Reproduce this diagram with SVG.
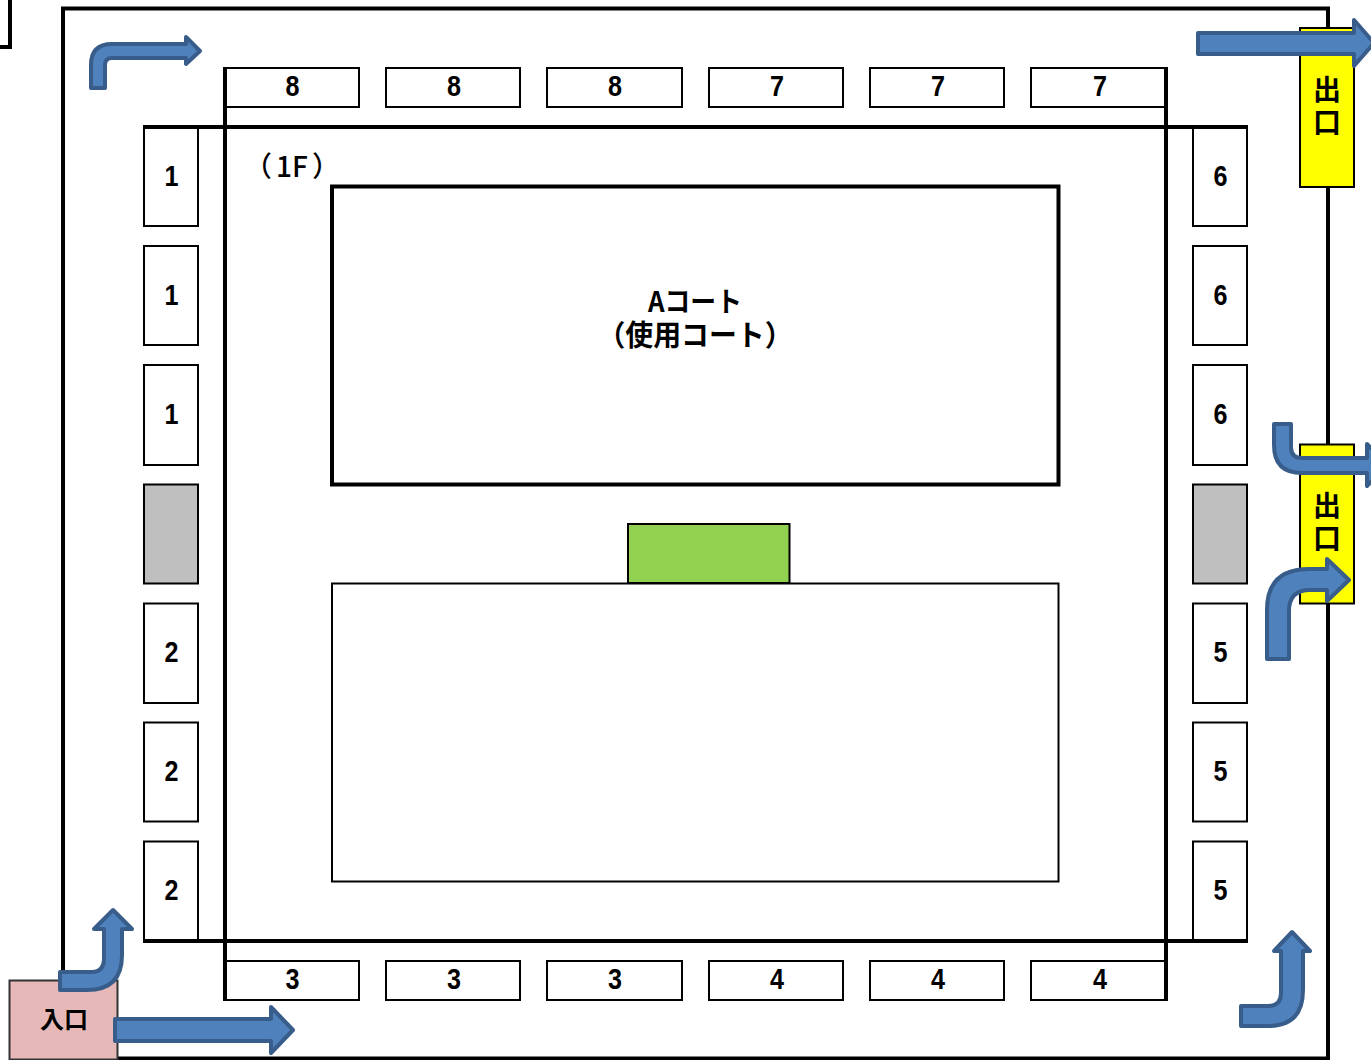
<svg xmlns="http://www.w3.org/2000/svg" width="1371" height="1060" viewBox="0 0 1371 1060">
<style>
.wall{fill:none;stroke:#000;stroke-width:4}
.box{fill:#fff;stroke:#000;stroke-width:2}
.grey{fill:#BFBFBF;stroke:#000;stroke-width:2}
.arrow{fill:#4F81BD;stroke:#385D8A;stroke-width:4;stroke-linejoin:round}
.num{font-family:"Liberation Sans",sans-serif;font-weight:700;font-size:29px;text-anchor:middle;fill:#000}
.jp{font-family:"Noto Sans CJK JP",sans-serif;font-weight:700;text-anchor:middle;fill:#000}
.vert{font-family:"Noto Sans CJK JP",sans-serif;font-weight:700;font-size:28px;letter-spacing:5px;fill:#000;writing-mode:vertical-rl;text-orientation:upright}
</style>
<rect width="1371" height="1060" fill="#fff"/>
<g id="outer-wall">
<path class="wall" d="M0 47H10V0"/>
<path class="wall" d="M63 985V8.500H1328V1058.500H117"/>
</g>
<g id="top-stalls">
<g id="t1"><path class="box" d="M225 68H359V107H225"/><text class="num" x="292.500" y="96" textLength="14" lengthAdjust="spacingAndGlyphs">8</text></g>
<g id="t2"><rect class="box" x="386" y="68" width="134" height="39"/><text class="num" x="454" y="96" textLength="14" lengthAdjust="spacingAndGlyphs">8</text></g>
<g id="t3"><rect class="box" x="547" y="68" width="135" height="39"/><text class="num" x="615" y="96" textLength="14" lengthAdjust="spacingAndGlyphs">8</text></g>
<g id="t4"><rect class="box" x="709" y="68" width="134" height="39"/><text class="num" x="777" y="96" textLength="14" lengthAdjust="spacingAndGlyphs">7</text></g>
<g id="t5"><rect class="box" x="870" y="68" width="134" height="39"/><text class="num" x="938" y="96" textLength="14" lengthAdjust="spacingAndGlyphs">7</text></g>
<g id="t6"><path class="box" d="M1166 68H1031V107H1166"/><text class="num" x="1100" y="96" textLength="14" lengthAdjust="spacingAndGlyphs">7</text></g>
</g>
<g id="left-stalls">
<g id="l1"><rect class="box" x="144" y="127" width="54" height="99"/><text class="num" x="171.500" y="186" textLength="14" lengthAdjust="spacingAndGlyphs">1</text></g>
<g id="l2"><rect class="box" x="144" y="246" width="54" height="99"/><text class="num" x="171.500" y="305" textLength="14" lengthAdjust="spacingAndGlyphs">1</text></g>
<g id="l3"><rect class="box" x="144" y="365" width="54" height="100"/><text class="num" x="171.500" y="424" textLength="14" lengthAdjust="spacingAndGlyphs">1</text></g>
<g id="l4"><rect class="grey" x="144" y="484.500" width="54" height="99"/></g>
<g id="l5"><rect class="box" x="144" y="603.500" width="54" height="99.500"/><text class="num" x="171.500" y="662" textLength="14" lengthAdjust="spacingAndGlyphs">2</text></g>
<g id="l6"><rect class="box" x="144" y="722.500" width="54" height="99"/><text class="num" x="171.500" y="781" textLength="14" lengthAdjust="spacingAndGlyphs">2</text></g>
<g id="l7"><rect class="box" x="144" y="841.500" width="54" height="99.500"/><text class="num" x="171.500" y="900" textLength="14" lengthAdjust="spacingAndGlyphs">2</text></g>
</g>
<g id="right-stalls">
<g id="r1"><rect class="box" x="1193" y="127" width="54" height="99"/><text class="num" x="1220.500" y="186" textLength="14" lengthAdjust="spacingAndGlyphs">6</text></g>
<g id="r2"><rect class="box" x="1193" y="246" width="54" height="99"/><text class="num" x="1220.500" y="305" textLength="14" lengthAdjust="spacingAndGlyphs">6</text></g>
<g id="r3"><rect class="box" x="1193" y="365" width="54" height="100"/><text class="num" x="1220.500" y="424" textLength="14" lengthAdjust="spacingAndGlyphs">6</text></g>
<g id="r4"><rect class="grey" x="1193" y="484.500" width="54" height="99"/></g>
<g id="r5"><rect class="box" x="1193" y="603.500" width="54" height="99.500"/><text class="num" x="1220.500" y="662" textLength="14" lengthAdjust="spacingAndGlyphs">5</text></g>
<g id="r6"><rect class="box" x="1193" y="722.500" width="54" height="99"/><text class="num" x="1220.500" y="781" textLength="14" lengthAdjust="spacingAndGlyphs">5</text></g>
<g id="r7"><rect class="box" x="1193" y="841.500" width="54" height="99.500"/><text class="num" x="1220.500" y="900" textLength="14" lengthAdjust="spacingAndGlyphs">5</text></g>
</g>
<g id="bottom-stalls">
<g id="b1"><path class="box" d="M225 961H359V1000H225"/><text class="num" x="292.500" y="989" textLength="14" lengthAdjust="spacingAndGlyphs">3</text></g>
<g id="b2"><rect class="box" x="386" y="961" width="134" height="39"/><text class="num" x="454" y="989" textLength="14" lengthAdjust="spacingAndGlyphs">3</text></g>
<g id="b3"><rect class="box" x="547" y="961" width="135" height="39"/><text class="num" x="615" y="989" textLength="14" lengthAdjust="spacingAndGlyphs">3</text></g>
<g id="b4"><rect class="box" x="709" y="961" width="134" height="39"/><text class="num" x="777" y="989" textLength="14" lengthAdjust="spacingAndGlyphs">4</text></g>
<g id="b5"><rect class="box" x="870" y="961" width="134" height="39"/><text class="num" x="938" y="989" textLength="14" lengthAdjust="spacingAndGlyphs">4</text></g>
<g id="b6"><path class="box" d="M1166 961H1031V1000H1166"/><text class="num" x="1100" y="989" textLength="14" lengthAdjust="spacingAndGlyphs">4</text></g>
</g>
<g id="hall-frame"><path class="wall" d="M225 67V1001M1166 67V1001M143 127H1248M143 941H1248"/></g>
<g id="floor-label"><text x="244 276 292 312" y="177" font-family="'Noto Sans CJK JP',sans-serif" font-size="28" font-weight="500">（1F）</text></g>
<g id="court-a">
<rect x="332" y="186.500" width="726.500" height="298" fill="#fff" stroke="#000" stroke-width="4"/>
<text class="jp" x="695" y="312" font-size="28" textLength="94" lengthAdjust="spacingAndGlyphs">Aコート</text>
<text class="jp" x="695" y="346" font-size="29" textLength="195" lengthAdjust="spacingAndGlyphs">（使用コート）</text>
</g>
<g id="green-block"><rect x="628" y="524" width="161.500" height="59" fill="#92D050" stroke="#000" stroke-width="2"/></g>
<g id="court-b"><rect x="332" y="583.500" width="726.500" height="298" fill="#fff" stroke="#000" stroke-width="2"/></g>
<g id="exit-top"><rect x="1300" y="28" width="54" height="159" fill="#FF0" stroke="#000" stroke-width="2"/><text class="vert" x="1327" y="75">出口</text></g>
<g id="exit-mid"><rect x="1300" y="444.500" width="54" height="159" fill="#FF0" stroke="#000" stroke-width="2"/><text class="vert" x="1327" y="491">出口</text></g>
<g id="entrance"><rect x="9.500" y="980.500" width="108" height="79" fill="#E6B9B8" stroke="#333" stroke-width="2"/><text class="jp" x="64" y="1028" font-size="24">入口</text></g>
<g id="connectors">
<path class="arrow" d="M91 88V65Q91 44 112 44H186V37L200 51L186 64V58H112Q105 58 105 65V88Z"/>
<path class="arrow" d="M1198 33H1354V20L1374 43L1354 66V54H1198Z"/>
<path class="arrow" d="M1274 424H1291V447Q1291 458 1302 458H1367V444L1387 465L1367 486V473H1302Q1274 473 1274 445Z"/>
<path class="arrow" d="M1267 659V610Q1267 569 1309 569H1327V559L1349 580L1327 601V590H1310Q1289 590 1289 611V659Z"/>
<path class="arrow" d="M60 972H92Q104 972 104 958V929H94L113 910L132 929H122V955Q122 990 87 990H60Z"/>
<path class="arrow" d="M115 1019H271V1007L293 1030L271 1053V1041H115Z"/>
<path class="arrow" d="M1241 1006H1268Q1281 1006 1281 993V951H1274L1292 932L1310 951H1303V990Q1303 1026 1268 1026H1241Z"/>
</g>
</svg>
